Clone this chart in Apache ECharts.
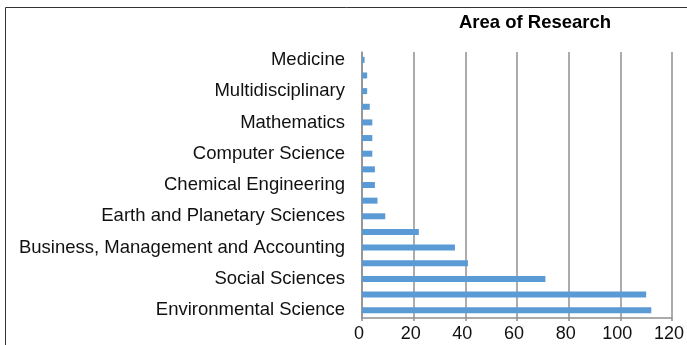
<!DOCTYPE html>
<html>
<head>
<meta charset="utf-8">
<script src="https://cdn.jsdelivr.net/npm/echarts@6/dist/echarts.min.js"></script>
<style>
html, body { margin: 0; padding: 0; background: #fff; }
#chart { width: 687px; height: 345px; }
</style>
</head>
<body>
<div id="chart"></div>
<script>
// categories bottom to top (only every other label is shown, as in the original)
var areas = [
	'Environmental Science',
	'Energy',
	'Social Sciences',
	'Agricultural and Biological Sciences',
	'Business, Management and Accounting',
	'Economics, Econometrics and Finance',
	'Earth and Planetary Sciences',
	'Engineering',
	'Chemical Engineering',
	'Decision Sciences',
	'Computer Science',
	'Arts and Humanities',
	'Mathematics',
	'Psychology',
	'Multidisciplinary',
	'Biochemistry, Genetics and Molecular Biology',
	'Medicine'
];
var counts = [112, 110, 71, 41, 36, 22, 9, 6, 5, 5, 4, 4, 4, 3, 2, 2, 1];
var xTicks = [0, 20, 40, 60, 80, 100, 120];

function loadChart(){
	var chart = echarts.init(document.getElementById('chart'));
	var option = {
		animation: false,
		title: {
			text: 'Area of Research',
			left: 530,
			textAlign: 'center',
			top: 8,
			textStyle: {
				fontFamily: 'Liberation Sans',
				fontSize: 18.5,
				fontWeight: 'bold',
				color: '#000'
			}
		},
		graphic: [{
			type: 'rect',
			shape: { x: 5.5, y: 7.5, width: 720, height: 400 },
			style: { fill: 'none', stroke: '#333', lineWidth: 1 },
			silent: true
		}],
		grid: {
			left: 362,
			right: 11,
			top: 52,
			bottom: 27
		},
		xAxis: {
			type: 'value',
			min: xTicks[0],
			max: xTicks[xTicks.length - 1],
			interval: 20,
			axisLine: { show: true, lineStyle: { color: '#909090', width: 1.5 } },
			axisTick: { show: true, length: 3, lineStyle: { color: '#909090', width: 1.5 } },
			splitLine: { show: true, lineStyle: { color: '#909090', width: 1.5 } },
			axisLabel: {
				fontFamily: 'Liberation Sans',
				fontSize: 18,
				color: '#111',
				margin: 7,
				padding: [0, 6, 0, 0]
			}
		},
		yAxis: {
			type: 'category',
			data: areas,
			axisLine: { show: true, lineStyle: { color: '#909090', width: 1.5 } },
			axisTick: { show: false },
			axisLabel: {
				interval: 1,
				fontFamily: 'Liberation Sans',
				fontSize: 18.5,
				color: '#111',
				margin: 17,
				padding: [0, 0, 2, 0]
			}
		},
		series: [{
			type: 'bar',
			data: counts,
			barWidth: 6,
			itemStyle: { color: '#5b9bd5' }
		}]
	};
	chart.setOption(option);
}
loadChart();
</script>
</body>
</html>
